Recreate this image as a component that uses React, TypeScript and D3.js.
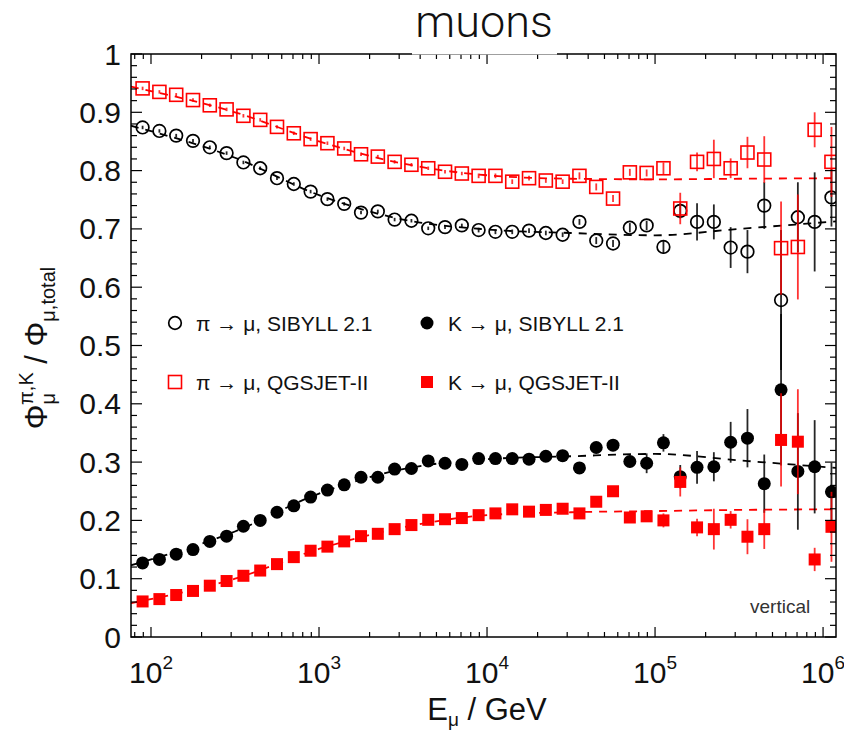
import React, { useRef, useEffect } from "react";
import * as d3 from "d3";

// log10(E/GeV) of each bin centre
const logE = [
  1.95, 2.05, 2.15, 2.25, 2.35, 2.45, 2.55, 2.65, 2.75, 2.85, 2.95, 3.05, 3.15, 3.25,
  3.35, 3.45, 3.55, 3.65, 3.75, 3.85, 3.95, 4.05, 4.15, 4.25, 4.35, 4.45, 4.55, 4.65,
  4.75, 4.85, 4.95, 5.05, 5.15, 5.25, 5.35, 5.45, 5.55, 5.65, 5.75, 5.85, 5.95, 6.05,
];

// pi -> mu, SIBYLL 2.1 (open black circles)
const piSibyll = [
  0.874, 0.868, 0.86, 0.851, 0.84, 0.83, 0.814, 0.804, 0.787, 0.777, 0.764, 0.751, 0.743, 0.728,
  0.73, 0.716, 0.714, 0.701, 0.703, 0.706, 0.698, 0.695, 0.695, 0.697, 0.693, 0.69, 0.712, 0.68,
  0.675, 0.702, 0.706, 0.669, 0.731, 0.712, 0.712, 0.668, 0.661, 0.74, 0.578, 0.72, 0.712, 0.754,
];
const piSibyllErr = [
  0.003, 0.003, 0.003, 0.003, 0.003, 0.003, 0.003, 0.003, 0.003, 0.003, 0.003, 0.003, 0.003, 0.003,
  0.003, 0.003, 0.003, 0.003, 0.003, 0.003, 0.004, 0.004, 0.004, 0.004, 0.004, 0.004, 0.005, 0.006,
  0.006, 0.008, 0.008, 0.012, 0.013, 0.032, 0.03, 0.035, 0.037, 0.04, 0.12, 0.06, 0.085, 0.05,
];

// pi -> mu, QGSJET-II (open red squares)
const piQgsjet = [
  0.941, 0.935, 0.93, 0.921, 0.912, 0.905, 0.894, 0.887, 0.875, 0.864, 0.854, 0.847, 0.838, 0.828,
  0.824, 0.815, 0.81, 0.804, 0.798, 0.795, 0.791, 0.791, 0.781, 0.787, 0.783, 0.781, 0.791, 0.772,
  0.752, 0.797, 0.796, 0.804, 0.735, 0.815, 0.82, 0.804, 0.831, 0.819, 0.667, 0.669, 0.87, 0.815,
];
const piQgsjetErr = [
  0.003, 0.003, 0.003, 0.003, 0.003, 0.003, 0.003, 0.003, 0.003, 0.003, 0.003, 0.003, 0.003, 0.003,
  0.003, 0.003, 0.003, 0.003, 0.003, 0.003, 0.004, 0.004, 0.004, 0.004, 0.004, 0.004, 0.006, 0.006,
  0.006, 0.006, 0.006, 0.01, 0.027, 0.016, 0.033, 0.017, 0.027, 0.04, 0.08, 0.09, 0.03, 0.06,
];

// K -> mu, SIBYLL 2.1 (filled black circles)
const kSibyll = [
  0.127, 0.133, 0.142, 0.15, 0.164, 0.173, 0.19, 0.2, 0.214, 0.225, 0.24, 0.252, 0.261, 0.274,
  0.274, 0.288, 0.289, 0.302, 0.298, 0.296, 0.306, 0.306, 0.306, 0.305, 0.31, 0.311, 0.29, 0.325,
  0.329, 0.301, 0.298, 0.333, 0.275, 0.291, 0.292, 0.334, 0.341, 0.263, 0.424, 0.284, 0.292, 0.249,
];
const kSibyllErr = [
  0.002, 0.002, 0.002, 0.002, 0.002, 0.002, 0.002, 0.002, 0.002, 0.002, 0.002, 0.002, 0.002, 0.002,
  0.002, 0.002, 0.002, 0.002, 0.003, 0.003, 0.003, 0.003, 0.003, 0.003, 0.004, 0.004, 0.006, 0.006,
  0.006, 0.01, 0.017, 0.015, 0.02, 0.028, 0.025, 0.035, 0.05, 0.05, 0.13, 0.1, 0.08, 0.05,
];

// K -> mu, QGSJET-II (filled red squares)
const kQgsjet = [
  0.061, 0.065, 0.072, 0.079, 0.088, 0.096, 0.105, 0.114, 0.125, 0.137, 0.148, 0.155, 0.164, 0.173,
  0.177, 0.185, 0.192, 0.201, 0.202, 0.204, 0.209, 0.212, 0.219, 0.215, 0.218, 0.22, 0.212, 0.232,
  0.25, 0.205, 0.207, 0.2, 0.266, 0.188, 0.185, 0.201, 0.172, 0.185, 0.338, 0.335, 0.133, 0.189,
];
const kQgsjetErr = [
  0.002, 0.002, 0.002, 0.002, 0.002, 0.002, 0.002, 0.002, 0.002, 0.002, 0.002, 0.002, 0.002, 0.002,
  0.002, 0.002, 0.002, 0.002, 0.003, 0.003, 0.003, 0.003, 0.003, 0.003, 0.004, 0.004, 0.006, 0.006,
  0.006, 0.006, 0.006, 0.012, 0.025, 0.015, 0.035, 0.015, 0.03, 0.034, 0.08, 0.09, 0.02, 0.06,
];

// dashed model curves, read at a few energies
const modelLogE = [1.88, 2.5, 3, 3.5, 4, 4.5, 5, 5.5, 6.08];
const piSibyllModel = [0.877, 0.822, 0.758, 0.716, 0.699, 0.693, 0.689, 0.7, 0.713];
const piQgsjetModel = [0.944, 0.9, 0.85, 0.812, 0.792, 0.786, 0.785, 0.786, 0.787];
const kSibyllModel = [0.123, 0.181, 0.246, 0.288, 0.305, 0.31, 0.314, 0.303, 0.29];
const kQgsjetModel = [0.058, 0.1, 0.151, 0.188, 0.209, 0.214, 0.216, 0.218, 0.219];

const yTicks = [0, 0.1, 0.2, 0.3, 0.4, 0.5, 0.6, 0.7, 0.8, 0.9, 1];
const yTickLabels = ["0", "0.1", "0.2", "0.3", "0.4", "0.5", "0.6", "0.7", "0.8", "0.9", "1"];
const xDecades = [2, 3, 4, 5, 6];

const legendItems = [
  { label: "π → μ, SIBYLL 2.1", marker: "openCircle", col: 0, row: 0 },
  { label: "K → μ, SIBYLL 2.1", marker: "filledCircle", col: 1, row: 0 },
  { label: "π → μ, QGSJET-II", marker: "openSquare", col: 0, row: 1 },
  { label: "K → μ, QGSJET-II", marker: "filledSquare", col: 1, row: 1 },
];

const FONT = "'Liberation Sans', Arial, Helvetica, sans-serif";
const RED = "#ff0000";

const App = () => {
  const svgRef = useRef<SVGSVGElement>(null);
  const width = 844;
  const height = 732;

  useEffect(() => {
    const svg = d3.select(svgRef.current);
    svg.selectAll("*").remove();

    const left = 131, right = 836, top = 54, bottom = 637;

    const x = d3.scaleLog().domain([Math.pow(10, 1.881), Math.pow(10, 6.077)]).range([left, right]);
    const y = d3.scaleLinear().domain([0, 1]).range([bottom, top]);
    const energy = logE.map((l) => Math.pow(10, l));
    const modelE = modelLogE.map((l) => Math.pow(10, l));

    svg.append("rect").attr("width", width).attr("height", height).attr("fill", "#fff");

    svg.append("clipPath").attr("id", "frame")
      .append("rect").attr("x", left).attr("y", top).attr("width", right - left).attr("height", bottom - top);

    const plot = svg.append("g").attr("clip-path", "url(#frame)");

    // dashed model lines
    const model = (vals: number[], color: string) => {
      const line = d3.line<number>()
        .x((d, i) => x(modelE[i]))
        .y((d) => y(d))
        .curve(d3.curveMonotoneX);
      plot.append("path")
        .datum(vals)
        .attr("fill", "none")
        .attr("stroke", color)
        .attr("stroke-width", 1.8)
        .attr("stroke-dasharray", "8,7")
        .attr("d", line);
    };
    model(piSibyllModel, "#000");
    model(kSibyllModel, "#000");
    model(piQgsjetModel, RED);
    model(kQgsjetModel, RED);

    const series = [
      { vals: piSibyll, err: piSibyllErr, color: "#000", marker: "openCircle" },
      { vals: kSibyll, err: kSibyllErr, color: "#000", marker: "filledCircle" },
      { vals: piQgsjet, err: piQgsjetErr, color: RED, marker: "openSquare" },
      { vals: kQgsjet, err: kQgsjetErr, color: RED, marker: "filledSquare" },
    ];

    const drawMarker = (g: any, kind: string, cx: number, cy: number) => {
      if (kind === "openCircle") {
        g.append("circle").attr("cx", cx).attr("cy", cy).attr("r", 6.3)
          .attr("fill", "none").attr("stroke", "#000").attr("stroke-width", 1.7);
      } else if (kind === "filledCircle") {
        g.append("circle").attr("cx", cx).attr("cy", cy).attr("r", 6.5).attr("fill", "#000");
      } else if (kind === "openSquare") {
        g.append("rect").attr("x", cx - 6.5).attr("y", cy - 6.5).attr("width", 13).attr("height", 13)
          .attr("fill", "none").attr("stroke", RED).attr("stroke-width", 1.6);
      } else {
        g.append("rect").attr("x", cx - 6).attr("y", cy - 6).attr("width", 12).attr("height", 12)
          .attr("fill", RED);
      }
    };

    series.forEach((s) => {
      const g = plot.append("g");
      s.vals.forEach((v, i) => {
        g.append("line")
          .attr("x1", x(energy[i])).attr("x2", x(energy[i]))
          .attr("y1", y(v - s.err[i])).attr("y2", y(v + s.err[i]))
          .attr("stroke", s.color).attr("stroke-width", 1.8)
          .attr("stroke-opacity", s.color === RED ? 0.8 : 0.85);
      });
      s.vals.forEach((v, i) => drawMarker(g, s.marker, x(energy[i]), y(v)));
    });

    // frame and ticks
    const axes = svg.append("g").attr("stroke", "#000");
    axes.append("rect").attr("x", left).attr("y", top).attr("width", right - left).attr("height", bottom - top)
      .attr("fill", "none").attr("stroke-width", 1.5);

    for (let d = 1; d <= 6; d++) {
      for (let m = 1; m <= 9; m++) {
        const e = m * Math.pow(10, d);
        const xp = x(e);
        if (xp < left + 1 || xp > right - 1) continue;
        const len = m === 1 ? 10 : 5;
        axes.append("line").attr("x1", xp).attr("x2", xp).attr("y1", bottom).attr("y2", bottom - len).attr("stroke-width", 1.2);
        axes.append("line").attr("x1", xp).attr("x2", xp).attr("y1", top).attr("y2", top + len).attr("stroke-width", 1.2);
      }
    }
    d3.range(0, 51).forEach((k) => {
      const v = k / 50;
      const yp = y(v);
      const len = k % 5 === 0 ? 11 : 6;
      axes.append("line").attr("x1", left).attr("x2", left + len).attr("y1", yp).attr("y2", yp).attr("stroke-width", 1.2);
      axes.append("line").attr("x1", right).attr("x2", right - len).attr("y1", yp).attr("y2", yp).attr("stroke-width", 1.2);
    });

    // y tick labels
    svg.append("g").selectAll("text").data(yTicks).enter().append("text")
      .attr("x", 121).attr("y", (d) => y(d) + 10.5)
      .attr("text-anchor", "end").attr("font-family", FONT).attr("font-size", 30).attr("fill", "#111")
      .text((d, i) => yTickLabels[i]);

    // x tick labels
    xDecades.forEach((p) => {
      const t = svg.append("text")
        .attr("x", x(Math.pow(10, p))).attr("y", 683)
        .attr("text-anchor", "middle").attr("font-family", FONT).attr("font-size", 30).attr("fill", "#111");
      t.append("tspan").text("10");
      t.append("tspan").attr("dy", -14).attr("font-size", 19).text(String(p));
    });

    // axis titles
    const xt = svg.append("text").attr("x", 487).attr("y", 720).attr("text-anchor", "middle")
      .attr("font-family", FONT).attr("font-size", 31).attr("fill", "#111");
    xt.append("tspan").text("E");
    xt.append("tspan").attr("dy", 6).attr("font-size", 19).text("μ");
    xt.append("tspan").attr("dy", -6).text(" / GeV");

    const yt = svg.append("text").attr("transform", "translate(47,348) rotate(-90)").attr("text-anchor", "middle")
      .attr("font-family", FONT).attr("font-size", 31).attr("fill", "#111");
    yt.append("tspan").text("Φ");
    yt.append("tspan").attr("dy", 8).attr("font-size", 20).text("μ");
    yt.append("tspan").attr("dx", -12).attr("dy", -22).attr("font-size", 20).text("π,K");
    yt.append("tspan").attr("dy", 14).text(" / Φ");
    yt.append("tspan").attr("dy", 8).attr("font-size", 20).text("μ,total");

    // legend
    const lg = svg.append("g");
    legendItems.forEach((it) => {
      const mx = it.col === 0 ? 175 : 427;
      const my = it.row === 0 ? 323 : 382;
      drawMarker(lg, it.marker, mx, my);
      lg.append("text").attr("x", mx + 21).attr("y", my + 7.5)
        .attr("font-family", FONT).attr("font-size", 21).attr("fill", "#111")
        .text(it.label);
    });

    svg.append("text").attr("x", 750).attr("y", 613)
      .attr("font-family", FONT).attr("font-size", 19).attr("fill", "#333").text("vertical");

    // title box over the frame
    svg.append("rect").attr("x", 412).attr("y", 0).attr("width", 145).attr("height", 54.5).attr("fill", "#fff");
    svg.append("text").attr("x", 484).attr("y", 37).attr("text-anchor", "middle")
      .attr("font-family", "Roboto, Lato, 'Open Sans', sans-serif").attr("font-size", 45).attr("font-weight", 300)
      .attr("fill", "#111").text("muons");
  }, []);

  return (
    <svg
      ref={svgRef}
      width={width}
      height={height}
      style={{ position: "absolute", left: 0, top: 0 }}
    ></svg>
  );
};

export default App;
